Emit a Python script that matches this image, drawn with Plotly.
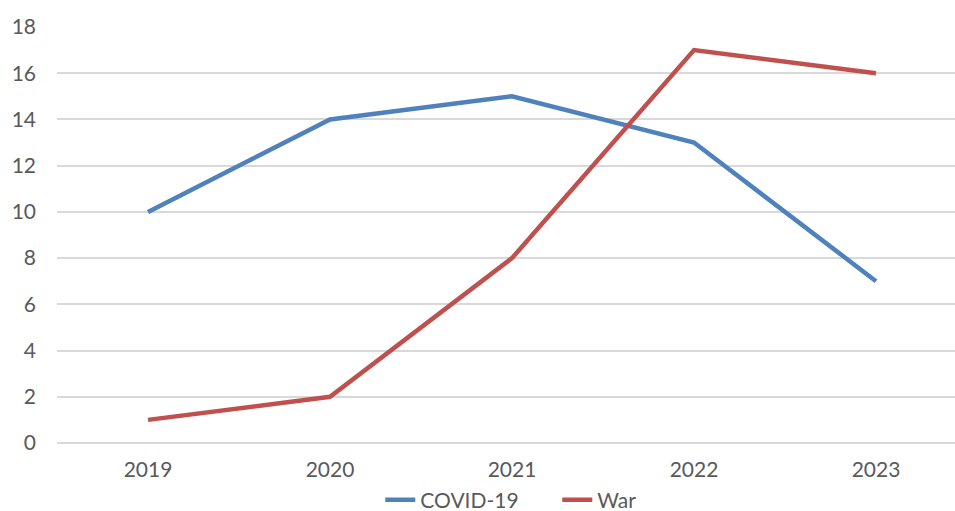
import plotly.graph_objects as go

years = ["2019", "2020", "2021", "2022", "2023"]
covid = [10, 14, 15, 13, 7]
war = [1, 2, 8, 17, 16]

font = dict(family="Lato, 'Open Sans', sans-serif", size=21, color="#595959")

fig = go.Figure()
fig.add_trace(go.Scatter(x=years, y=covid, mode="lines", name="COVID-19",
                         line=dict(color="#4F81BD", width=4.5)))
fig.add_trace(go.Scatter(x=years, y=war, mode="lines", name="War",
                         line=dict(color="#C0504D", width=4.5)))

fig.update_layout(
    width=955, height=511,
    margin=dict(l=57, r=0, t=27, b=68, autoexpand=False),
    paper_bgcolor="white", plot_bgcolor="white",
    font=font,
    showlegend=True,
    legend=dict(orientation="h", x=0.36, xanchor="left", y=-0.137, yanchor="middle",
                font=font, tracegroupgap=0, entrywidth=132, entrywidthmode="pixels"),
    xaxis=dict(type="category", range=[-0.5, 4.434], showgrid=False, showline=False,
               zeroline=False, ticks="", ticklabelstandoff=12, tickfont=font),
    yaxis=dict(range=[0, 18], dtick=2, showgrid=True, gridcolor="#D9D9D9", gridwidth=1.5,
               zeroline=True, zerolinecolor="#D9D9D9", zerolinewidth=1.5,
               showline=False, ticks="", ticklabelstandoff=20, tickfont=font),
)
fig.write_html("out.html")
